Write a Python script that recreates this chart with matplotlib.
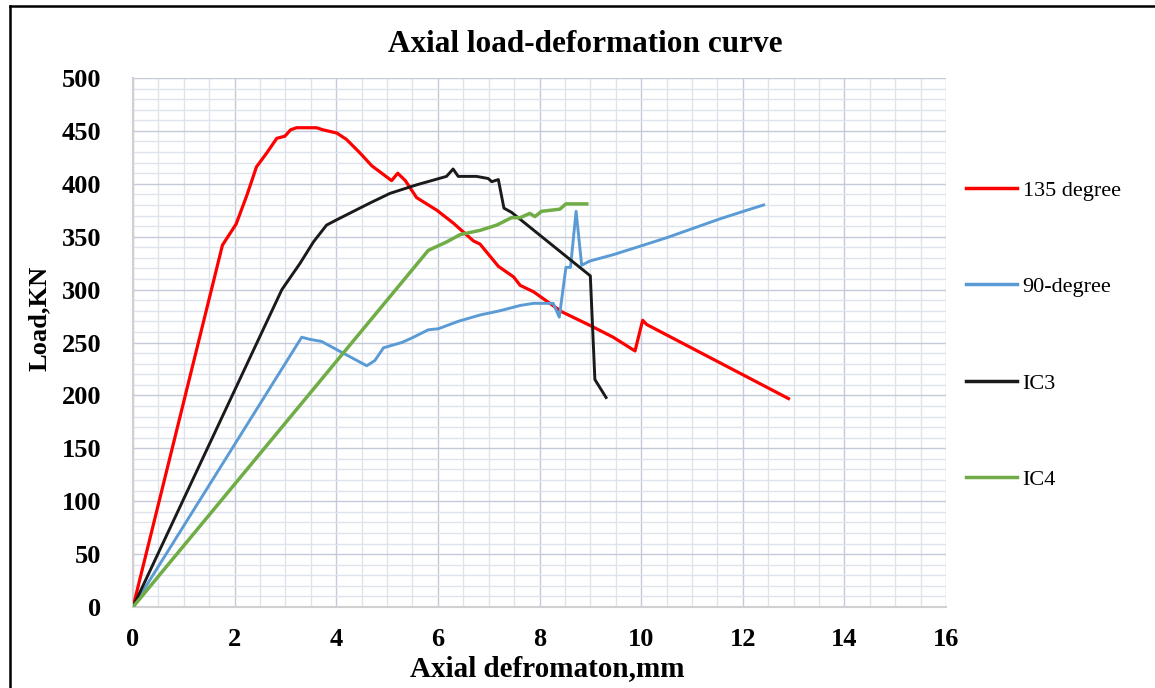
import matplotlib
matplotlib.use("Agg")
import matplotlib.pyplot as plt
from matplotlib.lines import Line2D
import numpy as np

# 135 degree
x_135 = [0, 1.76, 2.03, 2.24, 2.43, 2.63, 2.83, 2.99, 3.1, 3.22, 3.61, 3.74, 4.01, 4.2,
         4.47, 4.7, 5.09, 5.21, 5.36, 5.58, 5.98, 6.3, 6.7, 6.83, 7.19, 7.49, 7.62, 7.88,
         8.44, 9.0, 9.45, 9.88, 10.03, 10.11, 12.9]
y_135 = [0, 342, 362, 389, 416, 429, 443, 445, 451, 453, 453, 451, 448, 442,
         429, 417, 403, 410, 403, 387, 375, 363, 346, 343, 322, 312, 304, 298,
         279, 266, 255, 242, 271, 267, 197]

# 90-degree
x_90 = [0, 3.32, 3.48, 3.71, 4.6, 4.76, 4.93, 5.29, 5.52, 5.81, 6.01, 6.4, 6.83, 7.22,
        7.62, 7.88, 8.27, 8.39, 8.52, 8.61, 8.72, 8.83, 8.99, 9.45, 9.98, 10.5, 11.03,
        11.56, 12.08, 12.41]
y_90 = [0, 255, 253, 251, 228, 233, 245, 250, 255, 262, 263, 270, 276, 280,
        285, 287, 287, 274, 321, 321, 374, 323, 327, 333, 341, 349, 358,
        367, 375, 380]

# IC3
x_ic3 = [0, 2.93, 3.29, 3.55, 3.81, 4.01, 4.34, 4.67, 5.06, 5.58, 6.17, 6.3, 6.4, 6.76,
         6.99, 7.06, 7.19, 7.3, 7.45, 9.0, 9.09, 9.31]
y_ic3 = [0, 300, 325, 345, 361, 366, 374, 382, 391, 399, 407, 414, 407, 407,
         405, 402, 404, 377, 373, 313, 215, 198]

# IC4
x_ic4 = [0, 5.81, 6.17, 6.44, 6.83, 7.16, 7.45, 7.62, 7.81, 7.91, 8.04, 8.4, 8.52, 8.93]
y_ic4 = [0, 337, 345, 352, 356, 361, 368, 368, 372, 369, 374, 376, 381, 381]

labels = ["135 degree", "90-degree", "IC3", "IC4"]
colors = ["#ff0000", "#5b9bd5", "#1a1a1a", "#70ad47"]

serif = ["Liberation Serif", "DejaVu Serif"]

fig = plt.figure(figsize=(11.55, 6.88), dpi=100)
ax = fig.add_axes([133/1155, 1-607/688, (946-133)/1155, (607-78)/688])

ax.plot(x_135, y_135, color=colors[0], lw=2.3, label=labels[0], zorder=3)
ax.plot(x_90, y_90, color=colors[1], lw=2.1, label=labels[1], zorder=3)
ax.plot(x_ic3, y_ic3, color=colors[2], lw=2.1, label=labels[2], zorder=3)
ax.plot(x_ic4, y_ic4, color=colors[3], lw=2.5, label=labels[3], zorder=3)

ax.set_xlim(0, 16)
ax.set_ylim(0, 500)
ax.set_xticks(np.arange(0, 17, 2))
ax.set_yticks(np.arange(0, 501, 50))
ax.set_xticks(np.arange(0, 16.01, 0.5), minor=True)
ax.set_yticks(np.arange(0, 501, 10), minor=True)
ax.grid(which="major", color="#c4cad8", lw=1.0, zorder=0)
ax.grid(which="minor", color="#dfe3ec", lw=1.0, zorder=0)
ax.set_axisbelow(True)
ax.tick_params(which="both", length=0)
ax.tick_params(axis="y", pad=23)
ax.tick_params(axis="x", pad=15)
for lab in ax.get_xticklabels() + ax.get_yticklabels():
    lab.set_family(serif)
    lab.set_fontweight("bold")
    lab.set_fontsize(19)
for s in ["top", "right"]:
    ax.spines[s].set_visible(False)
for s in ["left", "bottom"]:
    ax.spines[s].set_color("#d0d0d0")
    ax.spines[s].set_linewidth(1.5)

ax.set_xlabel("Axial defromaton,mm", family=serif, fontweight="bold", fontsize=21)
ax.xaxis.set_label_coords((547-133)/813, -(655-607)/529)
ax.set_ylabel("Load,KN", family=serif, fontweight="bold", fontsize=19)
ax.yaxis.set_label_coords((51-133)/813, (607-318)/529)

fig.text(585/1155, 1-45/688, "Axial load-deformation curve", family=serif,
         fontweight="bold", fontsize=22.5, ha="center", va="center")

leg = fig.legend(loc="upper left", bbox_to_anchor=(946/1155, 1-160/688), frameon=False,
                 prop={"family": serif, "size": 16}, handlelength=2.3,
                 labelspacing=3.42, handletextpad=0.25)
for h in leg.get_lines():
    h.set_linewidth(2.5)

# outer frame
fig.add_artist(Line2D([10/1155, 10/1155], [0, 1-6/688], color="black", lw=1.8,
                      transform=fig.transFigure))
fig.add_artist(Line2D([10/1155, 1], [1-6/688, 1-6/688], color="black", lw=1.8,
                      transform=fig.transFigure))

fig.savefig("out.png", dpi=100)
